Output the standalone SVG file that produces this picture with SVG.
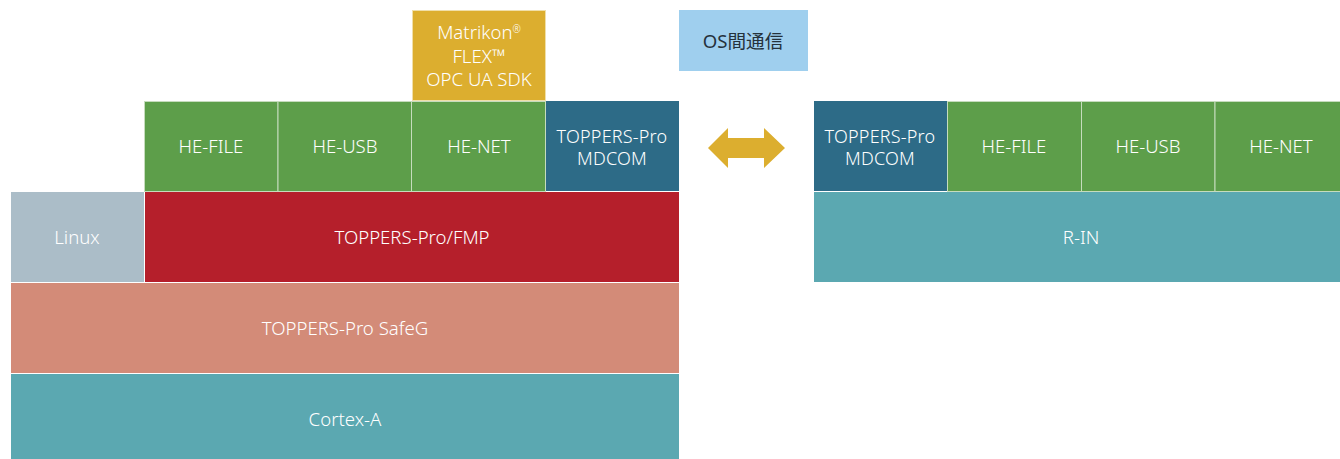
<svg xmlns="http://www.w3.org/2000/svg" width="1340" height="459" viewBox="0 0 1340 459">
<style>
text{font-family:"Noto Sans","Noto Sans CJK JP",sans-serif;font-size:18.6px;font-weight:300;fill:#fff;text-anchor:middle}
.d{fill:#25323c;font-size:18.6px;font-weight:400}
.m{font-size:18px;letter-spacing:.2px}
.g{fill:#5d9e4a;stroke:#c6dcbd}.t{fill:#5ba8b1}
.s{font-size:10px}
</style>
<rect width="1340" height="459" fill="#fff"/>
<g id="matrikon"><rect x="412.5" y="10.5" width="133" height="90" fill="#dcae2f" stroke="#f0dfa9"/><text x="479" y="39">Matrikon<tspan class="s" dy="-6">®</tspan></text><text x="479" y="63">FLEX™</text><text x="479" y="86">OPC UA SDK</text></g>
<g id="os"><rect x="679" y="10" width="129" height="61" fill="#9fcfee"/><text class="d" x="743" y="48">OS間通信</text></g>
<g id="lfile"><rect class="g" x="144.5" y="101.5" width="133.5" height="90"/><text x="211" y="153">HE-FILE</text></g>
<g id="lusb"><rect class="g" x="278" y="101.5" width="133.5" height="90"/><text x="345" y="153">HE-USB</text></g>
<g id="lnet"><rect class="g" x="411.5" y="101.5" width="134" height="90"/><text x="479" y="153">HE-NET</text></g>
<g id="lmd"><rect x="546" y="101" width="133" height="90" fill="#2d6b87"/><text class="m" x="612" y="143">TOPPERS-Pro</text><text class="m" x="612" y="165">MDCOM</text></g>
<g id="linux"><rect x="11" y="192" width="133" height="90" fill="#abbdc8"/><text x="77" y="244">Linux</text></g>
<g id="fmp"><rect x="145" y="192" width="534" height="90" fill="#b51f2b"/><text x="412" y="244">TOPPERS-Pro/FMP</text></g>
<g id="safeg"><rect x="11" y="283" width="668" height="90" fill="#d38b78"/><text x="345" y="335">TOPPERS-Pro SafeG</text></g>
<g id="cortex"><rect class="t" x="11" y="374" width="668" height="85"/><text x="345" y="426">Cortex-A</text></g>
<g id="rmd"><rect x="814" y="101" width="133" height="90" fill="#2d6b87"/><text class="m" x="880" y="143">TOPPERS-Pro</text><text class="m" x="880" y="165">MDCOM</text></g>
<g id="rfile"><rect class="g" x="947.5" y="101.5" width="134" height="90"/><text x="1014" y="153">HE-FILE</text></g>
<g id="rusb"><rect class="g" x="1081.5" y="101.5" width="133.5" height="90"/><text x="1148" y="153">HE-USB</text></g>
<g id="rnet"><rect class="g" x="1215" y="101.5" width="130" height="90"/><text x="1281" y="153">HE-NET</text></g>
<g id="rin"><rect class="t" x="814" y="192" width="526" height="90"/><text x="1081" y="244">R-IN</text></g>
<g id="connectors"><polygon points="708,148 728,128 728,138 764,138 764,128 785,148 764,168 764,158 728,158 728,168" fill="#dcae2f"/></g>
</svg>
